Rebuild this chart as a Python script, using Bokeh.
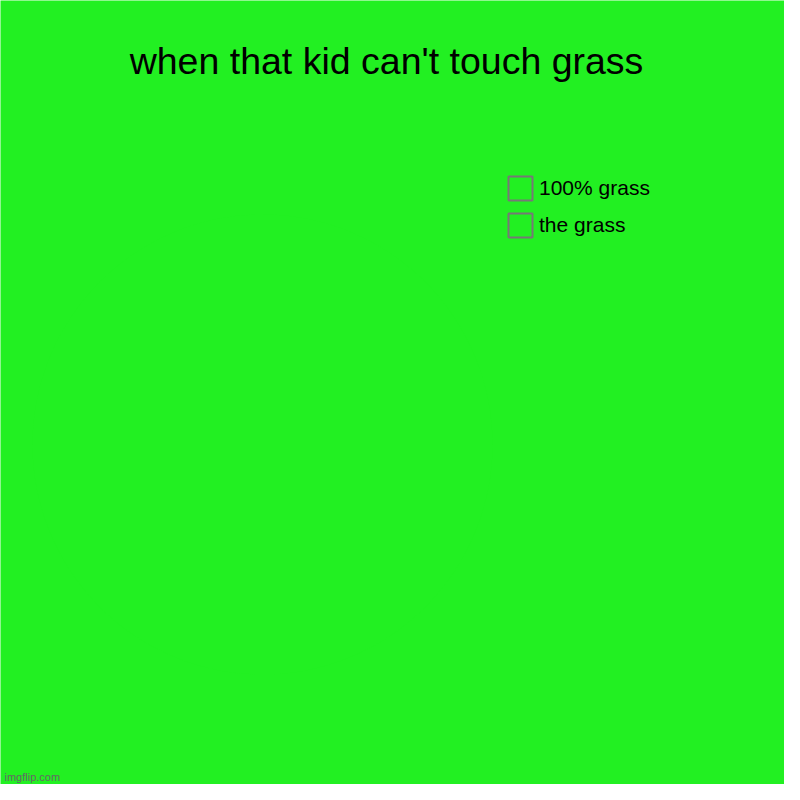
from bokeh.plotting import figure
from bokeh.models import Legend, LegendItem, ColumnDataSource, Label, Range1d
from bokeh.embed import file_html
from bokeh.resources import INLINE
from bokeh.transform import cumsum
import math

title_text = "when that kid can't touch grass"
categories = ["100% grass", "the grass"]
values = [100, 100]
slice_colors = ["#22f022", "#22f022"]
bg = "#22f022"

W = H = 784
p = figure(width=W, height=H, output_backend="svg", toolbar_location=None,
           x_range=Range1d(0, W), y_range=Range1d(0, H),
           min_border=0)
p.axis.visible = False
p.grid.visible = False
p.outline_line_color = None
p.background_fill_color = bg
p.border_fill_color = bg

title = Label(x=386, y=724, x_units="screen", y_units="screen", text=title_text,
              text_align="center", text_baseline="alphabetic",
              text_font="Liberation Sans", text_font_size="37.5px", text_color="black")
p.add_layout(title)

total = sum(values)
angles = [v / total * 2 * math.pi for v in values]
src = ColumnDataSource(dict(cat=categories, val=values, angle=angles, color=slice_colors))
p.wedge(x=262, y=340, radius=230, start_angle=cumsum("angle", include_zero=True),
        end_angle=cumsum("angle"), fill_color="color", line_color=None, source=src,
        direction="anticlock")

items = []
for cat, col in zip(categories, slice_colors):
    r = p.rect(x=[float("nan")], y=[float("nan")], width=1, height=1,
               fill_color=col, line_color="#777777", line_width=2)
    items.append(LegendItem(label=cat, renderers=[r]))

legend = Legend(items=items, location=(505, 544), orientation="vertical",
                glyph_width=30, glyph_height=30, spacing=7, label_standoff=4,
                padding=0, margin=0, border_line_color=None, background_fill_alpha=0,
                label_text_font="Liberation Sans", label_text_font_size="21px",
                label_text_color="black", label_height=30)
p.add_layout(legend, "center")

wm = Label(x=4, y=8, x_units="screen", y_units="screen", text="imgflip.com",
           text_baseline="alphabetic",
           text_font="Liberation Sans", text_font_size="11px", text_color="#666666")
p.add_layout(wm)

open("out.html", "w").write(file_html(p, INLINE))
